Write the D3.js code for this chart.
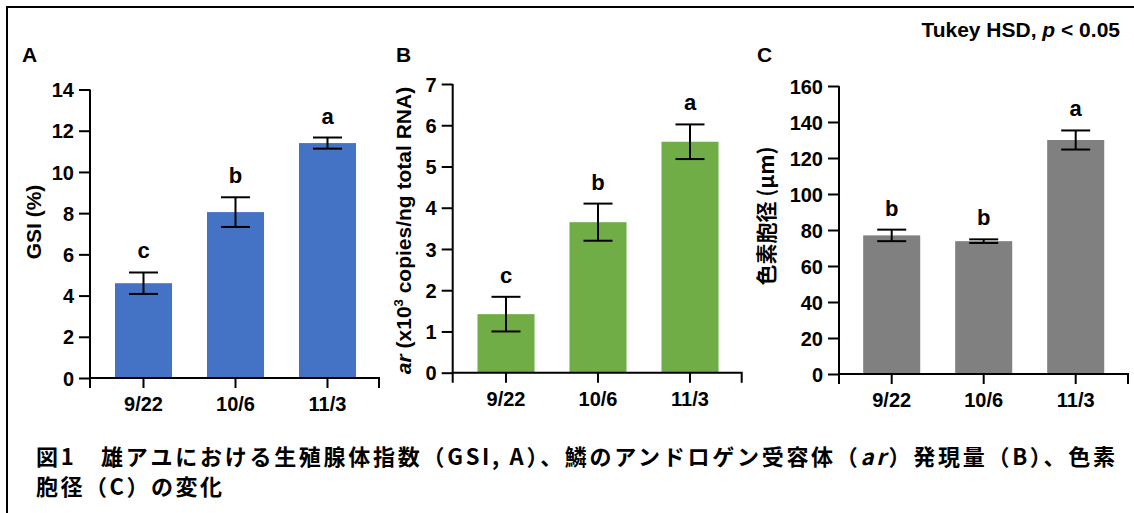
<!DOCTYPE html>
<html><head><meta charset="utf-8">
<script src="https://cdn.jsdelivr.net/npm/d3@7"></script>
<style>
html,body{margin:0;padding:0;background:#fff;}
svg{display:block;}
text{font-family:"Liberation Sans",Arial,sans-serif;font-weight:bold;fill:#000;}
.cjk{font-family:"Noto Sans CJK JP","Noto Sans CJK SC",sans-serif;}
</style></head>
<body>
<svg id="chart" width="1134" height="513"></svg>
<script>
const categories = ["9/22", "10/6", "11/3"];
const gsiMean = [4.6, 8.05, 11.4];
const gsiErr = [0.52, 0.72, 0.27];
const gsiLetters = ["c", "b", "a"];
const gsiTicks = [0, 2, 4, 6, 8, 10, 12, 14];
const arMean = [1.42, 3.65, 5.6];
const arErr = [0.42, 0.45, 0.42];
const arLetters = ["c", "b", "a"];
const arTicks = [0, 1, 2, 3, 4, 5, 6, 7];
const chromMean = [77, 73.8, 130];
const chromErr = [3.2, 1.0, 5.3];
const chromLetters = ["b", "b", "a"];
const chromTicks = [0, 20, 40, 60, 80, 100, 120, 140, 160];

const svg = d3.select("#chart");
// outer frame
svg.append("rect").attr("x", 7).attr("y", 7).attr("width", 1140).attr("height", 520)
  .attr("fill", "none").attr("stroke", "#000").attr("stroke-width", 2);

function panel(o) {
  const g = svg.append("g");
  const y = d3.scaleLinear().domain([0, o.max]).range([o.y0, o.y1]);
  const x = d3.scaleBand().domain(categories).range([o.bx0, o.bx1]).paddingInner(0.38).paddingOuter(0.19);
  // bars
  g.selectAll("rect.bar").data(o.mean).join("rect")
    .attr("x", (d, i) => x(categories[i]))
    .attr("width", x.bandwidth())
    .attr("y", d => y(d))
    .attr("height", d => y(0) - y(d))
    .attr("fill", o.color);
  // error bars
  const cap = 14.5;
  o.mean.forEach((m, i) => {
    const cx = x(categories[i]) + x.bandwidth() / 2;
    const t = y(m + o.err[i]), b = y(m - o.err[i]);
    g.append("line").attr("x1", cx).attr("x2", cx).attr("y1", t).attr("y2", b).attr("stroke", "#000").attr("stroke-width", 2);
    g.append("line").attr("x1", cx - cap).attr("x2", cx + cap).attr("y1", t).attr("y2", t).attr("stroke", "#000").attr("stroke-width", 2);
    g.append("line").attr("x1", cx - cap).attr("x2", cx + cap).attr("y1", b).attr("y2", b).attr("stroke", "#000").attr("stroke-width", 2);
    g.append("text").attr("x", cx).attr("y", t - 14).attr("text-anchor", "middle")
      .style("font-size", "22px").text(o.letters[i]);
  });
  // y axis
  const ya = d3.axisLeft(y).tickValues(o.ticks).tickFormat(d3.format("d")).tickSize(11).tickPadding(5).tickSizeOuter(0);
  const yg = g.append("g").attr("transform", `translate(${o.ax},0)`).call(ya);
  yg.select(".domain").attr("stroke-width", 2).attr("d", `M0,${o.y1}V${o.y0 + 10}`);
  yg.selectAll(".tick line").attr("stroke-width", 2);
  yg.selectAll(".tick text").style("font-size", "20px").attr("font-family", null).attr("dy", "0.36em");
  // x axis
  const xa = d3.axisBottom(x).tickSize(10).tickPadding(9).tickSizeOuter(0);
  const xg = g.append("g").attr("transform", `translate(0,${o.y0})`).call(xa);
  xg.select(".domain").attr("stroke-width", 2).attr("d", `M${o.ax},0H${o.axEnd}V10`);
  xg.selectAll(".tick line").attr("stroke-width", 2);
  xg.selectAll(".tick text").style("font-size", "20px").attr("font-family", null);
  // panel letter
  g.append("text").attr("x", o.lx).attr("y", 62).style("font-size", "21px").text(o.label);
  return g;
}

panel({mean: gsiMean, err: gsiErr, letters: gsiLetters, ticks: gsiTicks, max: 14,
  y0: 378, y1: 89.5, ax: 90, axEnd: 379, bx0: 97.5, bx1: 373.5, color: "#4472C4", lx: 22, label: "A"});
panel({mean: arMean, err: arErr, letters: arLetters, ticks: arTicks, max: 7,
  y0: 372.7, y1: 84, ax: 452.7, axEnd: 741.7, bx0: 460, bx1: 736, color: "#70AD47", lx: 396, label: "B"});
panel({mean: chromMean, err: chromErr, letters: chromLetters, ticks: chromTicks, max: 160,
  y0: 374, y1: 86, ax: 839, axEnd: 1128, bx0: 845.7, bx1: 1121.7, color: "#808080", lx: 757, label: "C"});

// y-axis titles
svg.append("text").attr("transform", "translate(41,222) rotate(-90)").attr("text-anchor", "middle")
  .style("font-size", "21px").text("GSI (%)");
const tb = svg.append("text").attr("transform", "translate(411,230.5) rotate(-90)").attr("text-anchor", "middle")
  .style("font-size", "21px");
tb.append("tspan").style("font-style", "italic").text("ar");
tb.append("tspan").text(" (x10");
tb.append("tspan").style("font-size", "13px").attr("dy", "-8").text("3");
tb.append("tspan").attr("dy", "8").text(" copies/ng total RNA)");
svg.append("text").attr("class", "cjk").attr("transform", "translate(774,216) rotate(-90)").attr("text-anchor", "middle")
  .style("font-size", "21px").text("色素胞径 (μm)");

// Tukey note
const tk = svg.append("text").attr("x", 1120).attr("y", 36.5).attr("text-anchor", "end").style("font-size", "21px");
tk.append("tspan").text("Tukey HSD, ");
tk.append("tspan").style("font-style", "italic").text("p");
tk.append("tspan").text(" < 0.05");

// caption
const c1 = svg.append("text").attr("class", "cjk").attr("x", 36).attr("y", 465).style("font-size", "22px")
  .attr("textLength", 1079).attr("lengthAdjust", "spacing");
c1.append("tspan").text("図1　雄アユにおける生殖腺体指数（GSI, A）、鱗のアンドロゲン受容体（");
c1.append("tspan").style("font-style", "italic").text("ar");
c1.append("tspan").text("）発現量（B）、色素");
svg.append("text").attr("class", "cjk").attr("x", 36).attr("y", 495).style("font-size", "22px")
  .attr("textLength", 186).attr("lengthAdjust", "spacing")
  .text("胞径（C）の変化");
</script>
</body></html>
